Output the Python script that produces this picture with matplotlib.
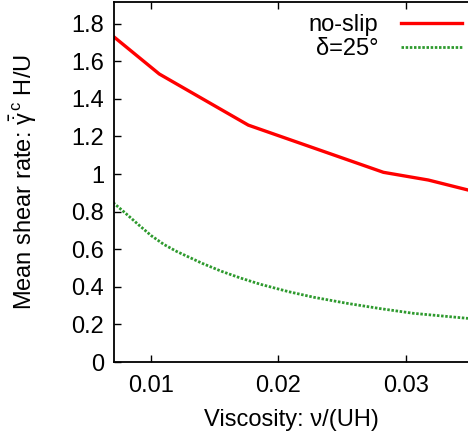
import matplotlib
matplotlib.use("Agg")
import matplotlib.pyplot as plt

plt.rcParams['font.family'] = ['Liberation Sans', 'DejaVu Sans']
plt.rcParams['mathtext.fontset'] = 'custom'
plt.rcParams['mathtext.rm'] = 'Liberation Sans'
plt.rcParams['mathtext.it'] = 'Liberation Sans:italic'

# data
nu_noslip = [0.007, 0.01063, 0.01763, 0.02825, 0.03178, 0.0349]
rate_noslip = [1.733, 1.532, 1.26, 1.009, 0.968, 0.915]

nu_delta = [0.007, 0.008, 0.009, 0.010, 0.011, 0.012, 0.014, 0.0155, 0.017,
            0.0186, 0.0208, 0.0228, 0.0254, 0.028, 0.0306, 0.0349]
rate_delta = [0.848, 0.79, 0.73, 0.672, 0.625, 0.588, 0.525, 0.483, 0.447,
              0.413, 0.374, 0.344, 0.312, 0.284, 0.259, 0.232]

labels = ['no-slip', 'δ=25°']
xticks = [0.01, 0.02, 0.03]
xticklabels = ['0.01', '0.02', '0.03']
yticks = [0, 0.2, 0.4, 0.6, 0.8, 1.0, 1.2, 1.4, 1.6, 1.8]
yticklabels = ['0', '0.2', '0.4', '0.6', '0.8', '1', '1.2', '1.4', '1.6', '1.8']

FS = 17

fig = plt.figure(figsize=(4.68, 4.40), dpi=100)
ax = fig.add_axes([114/468, 1 - 362/440, 1 - 114/468, 360/440])

ax.plot(nu_noslip, rate_noslip, color='#ff0000', lw=2.4, label=labels[0],
        solid_joinstyle='round')
ax.plot(nu_delta, rate_delta, color='#2e9a2e', lw=2.0, linestyle=(0, (0.9, 0.6)),
        label=labels[1])

ax.set_xlim(0.00707, 0.0349)
ax.set_ylim(0, 1.915)
ax.set_xticks(xticks)
ax.set_xticklabels(xticklabels)
ax.set_yticks(yticks)
ax.set_yticklabels(yticklabels)
ax.tick_params(direction='in', length=5, width=1, labelsize=FS, top=True,
               right=False, pad=9)
ax.tick_params(axis='y', pad=7)
ax.spines['right'].set_visible(False)
for s in ['left', 'bottom', 'top']:
    ax.spines[s].set_linewidth(1.3)

ax.set_xlabel('Viscosity: ν/(UH)', fontsize=FS, labelpad=9)
ax.set_ylabel(r'Mean shear rate: $\bar{\dot{\mathrm{\gamma}}}^{\,\mathrm{c}}$ H/U',
              fontsize=FS, labelpad=23)

leg = ax.legend(loc='upper right', markerfirst=False, frameon=False, fontsize=FS,
                handlelength=2.6, handletextpad=0.95, labelspacing=0.1,
                borderaxespad=0.1, bbox_to_anchor=(1.017, 1.0))

fig.savefig('out.png', dpi=100)
